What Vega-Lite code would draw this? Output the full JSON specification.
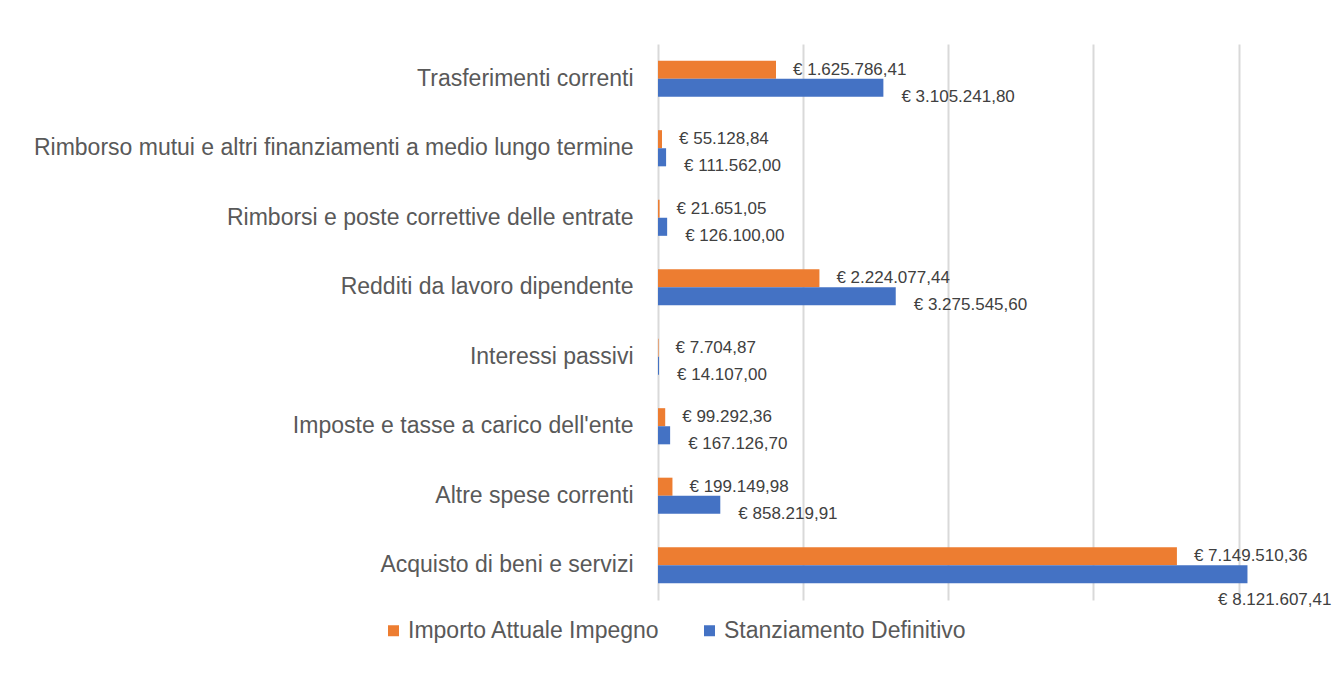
{
  "$schema": "https://vega.github.io/schema/vega-lite/v6.json",
  "autosize": {"type": "none"},
  "width": 675,
  "height": 556,
  "padding": {"left": 658, "top": 44, "right": 1, "bottom": 88},
  "background": "white",
  "config": {
    "view": {"stroke": null},
    "font": "Liberation Sans",
    "locale": {"number": {"decimal": ",", "thousands": ".", "grouping": [3], "currency": ["€ ", ""]}}
  },
  "data": {
    "values": [
      {"categoria": "Trasferimenti correnti", "serie": "Importo Attuale Impegno", "valore": 1625786.41},
      {"categoria": "Trasferimenti correnti", "serie": "Stanziamento Definitivo", "valore": 3105241.80},
      {"categoria": "Rimborso mutui e altri finanziamenti a medio lungo termine", "serie": "Importo Attuale Impegno", "valore": 55128.84},
      {"categoria": "Rimborso mutui e altri finanziamenti a medio lungo termine", "serie": "Stanziamento Definitivo", "valore": 111562.00},
      {"categoria": "Rimborsi e poste correttive delle entrate", "serie": "Importo Attuale Impegno", "valore": 21651.05},
      {"categoria": "Rimborsi e poste correttive delle entrate", "serie": "Stanziamento Definitivo", "valore": 126100.00},
      {"categoria": "Redditi da lavoro dipendente", "serie": "Importo Attuale Impegno", "valore": 2224077.44},
      {"categoria": "Redditi da lavoro dipendente", "serie": "Stanziamento Definitivo", "valore": 3275545.60},
      {"categoria": "Interessi passivi", "serie": "Importo Attuale Impegno", "valore": 7704.87},
      {"categoria": "Interessi passivi", "serie": "Stanziamento Definitivo", "valore": 14107.00},
      {"categoria": "Imposte e tasse a carico dell'ente", "serie": "Importo Attuale Impegno", "valore": 99292.36},
      {"categoria": "Imposte e tasse a carico dell'ente", "serie": "Stanziamento Definitivo", "valore": 167126.70},
      {"categoria": "Altre spese correnti", "serie": "Importo Attuale Impegno", "valore": 199149.98},
      {"categoria": "Altre spese correnti", "serie": "Stanziamento Definitivo", "valore": 858219.91},
      {"categoria": "Acquisto di beni e servizi", "serie": "Importo Attuale Impegno", "valore": 7149510.36},
      {"categoria": "Acquisto di beni e servizi", "serie": "Stanziamento Definitivo", "valore": 8121607.41}
    ]
  },
  "encoding": {
    "y": {
      "field": "categoria", "type": "nominal",
      "sort": ["Trasferimenti correnti", "Rimborso mutui e altri finanziamenti a medio lungo termine", "Rimborsi e poste correttive delle entrate", "Redditi da lavoro dipendente", "Interessi passivi", "Imposte e tasse a carico dell'ente", "Altre spese correnti", "Acquisto di beni e servizi"],
      "scale": {"paddingInner": 0.48, "paddingOuter": 0.24},
      "axis": {"title": null, "ticks": false, "domain": false, "labelFontSize": 23, "labelColor": "#595959", "labelPadding": 25, "labelLimit": 700}
    },
    "yOffset": {"field": "serie", "type": "nominal", "sort": ["Importo Attuale Impegno", "Stanziamento Definitivo"], "scale": {"paddingInner": 0, "paddingOuter": 0}},
    "x": {
      "field": "valore", "type": "quantitative",
      "scale": {"domain": [0, 9300000], "nice": false},
      "axis": {"title": null, "values": [0, 2000000, 4000000, 6000000, 8000000], "labels": false, "ticks": false, "domain": false, "grid": true, "gridColor": "#d9d9d9", "gridWidth": 2}
    }
  },
  "layer": [
    {
      "mark": {"type": "bar"},
      "encoding": {
        "color": {
          "field": "serie", "type": "nominal",
          "scale": {"domain": ["Importo Attuale Impegno", "Stanziamento Definitivo"], "range": ["#ED7D31", "#4472C4"]},
          "legend": {"title": null, "orient": "none", "legendX": -276, "legendY": 575, "direction": "horizontal", "symbolType": "square", "symbolSize": 121, "symbolStrokeWidth": 0, "labelFontSize": 23, "labelColor": "#595959", "labelLimit": 600, "columnPadding": 38, "labelOffset": 3}
        }
      }
    },
    {
      "transform": [{"filter": "datum.serie === 'Importo Attuale Impegno'"}],
      "mark": {"type": "text", "align": "left", "baseline": "middle", "dx": 17, "dy": 0, "fontSize": 17, "color": "#404040"},
      "encoding": {"text": {"field": "valore", "type": "quantitative", "format": "$,.2f"}}
    },
    {
      "transform": [{"filter": "datum.serie === 'Stanziamento Definitivo' && datum.valore < 8000000"}],
      "mark": {"type": "text", "align": "left", "baseline": "middle", "dx": 18, "dy": 9, "fontSize": 17, "color": "#404040"},
      "encoding": {"text": {"field": "valore", "type": "quantitative", "format": "$,.2f"}}
    },
    {
      "transform": [{"filter": "datum.serie === 'Stanziamento Definitivo' && datum.valore >= 8000000"}],
      "mark": {"type": "text", "align": "right", "baseline": "middle", "dx": 84, "dy": 26, "fontSize": 17, "color": "#404040"},
      "encoding": {"text": {"field": "valore", "type": "quantitative", "format": "$,.2f"}}
    }
  ]
}
